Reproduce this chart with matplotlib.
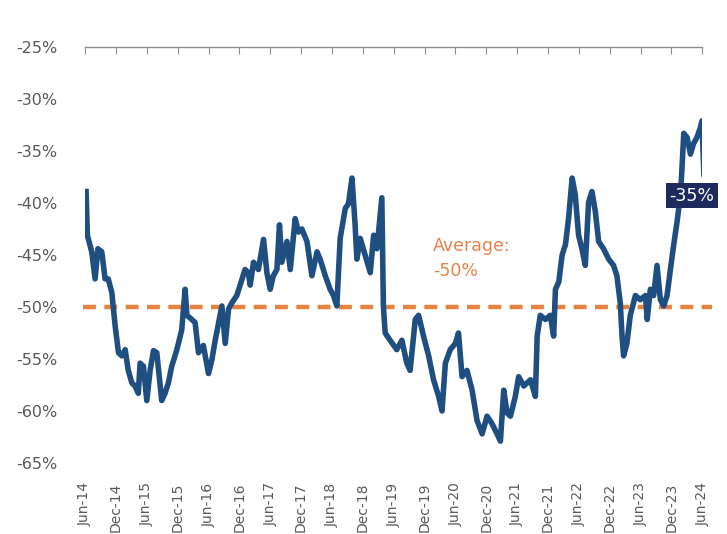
import matplotlib
matplotlib.use("Agg")
import matplotlib.pyplot as plt
import numpy as np

# months since Jun-2014 and the valuation gap (%)
months = [0.2, 0.45, 1.3, 1.95, 2.5, 3.25, 3.9, 4.5, 5.2, 5.85, 6.5, 7.15, 7.8, 8.4,
          9.1, 9.7, 10.35, 10.7, 11.35, 12.0, 12.65, 13.3, 13.95, 14.9, 15.55, 16.2,
          16.85, 17.85, 18.8, 19.45, 19.8, 20.75, 21.4, 22.05, 23.0, 24.0, 24.65,
          25.3, 26.25, 26.6, 27.25, 27.9, 28.55, 29.5, 30.15, 31.1, 31.75,
          32.1, 32.75, 33.7, 34.7, 35.35, 36.0, 36.6, 37.3, 37.8, 38.25, 39.25,
          39.9, 40.85, 41.5, 42.15, 43.15, 44.1, 45.1, 45.7, 46.7, 47.65, 48.3,
          48.95, 49.6, 50.6, 51.2, 51.9, 52.5, 52.85, 53.5, 54.45, 55.45, 56.1,
          56.75, 57.7, 58.0, 58.35, 59.3, 60.6, 61.6, 62.55,
          63.2, 64.2, 64.85, 65.8, 66.8, 67.75, 68.75, 69.4, 70.05, 71.0, 72.0,
          72.6, 73.3, 74.25, 75.25, 76.2, 77.2, 78.15, 79.1, 80.1, 80.75, 81.4,
          82.05, 82.7, 83.65, 84.3, 85.3, 86.6, 87.55, 87.9, 88.5, 89.5, 90.45,
          91.1, 91.45, 92.1, 92.75, 93.4, 94.0, 94.7, 95.3, 95.95, 96.6, 97.25,
          97.9, 98.55, 99.2, 99.85, 100.8, 101.8, 102.75, 103.4, 104.05, 104.4,
          104.7, 105.35, 106.0, 107.0, 107.95, 108.95, 109.3, 109.9, 110.55,
          111.2, 111.85, 112.5, 113.15, 113.8, 114.45, 115.1, 115.75, 116.05,
          116.4, 117.05, 117.7, 118.3, 118.95, 119.6, 119.95, 120.3]
values = [-38.9, -43.1, -44.7, -47.3, -44.4, -44.7, -47.3, -47.3, -48.6, -51.8, -54.4,
          -54.7, -54.1, -56.1, -57.3, -57.6, -58.3, -55.4, -55.7, -59.0, -56.1, -54.2,
          -54.4, -59.0, -58.3, -57.3, -55.7, -54.1, -52.2, -48.3, -50.8, -51.2, -51.5,
          -54.4, -53.7, -56.4, -55.1, -53.2, -50.8, -49.9, -53.5, -50.2, -49.6, -48.9,
          -47.9, -46.4, -46.7,
          -47.9, -45.7, -46.4, -43.5, -46.7, -48.3, -47.0, -46.4, -42.1, -45.7, -43.7,
          -46.4, -41.5, -42.8, -42.5, -43.7, -47.0, -44.7, -45.4, -47.0, -48.3, -48.9,
          -49.9, -43.4, -40.5, -40.1, -37.6, -42.1, -45.4, -43.4, -45.0, -46.7, -43.1,
          -44.4, -39.5, -49.9, -52.5, -53.2, -54.1, -53.2, -55.4,
          -56.1, -51.2, -50.8, -52.8, -54.7, -57.0, -58.6, -60.0, -55.4, -54.1, -53.5,
          -52.5, -56.7, -56.1, -58.0, -60.9, -62.2, -60.5, -61.2, -62.2, -62.9, -58.0,
          -60.2, -60.5, -58.6, -56.7, -57.6, -57.0, -58.6, -52.8, -50.8, -51.2, -50.8,
          -52.8, -48.3, -47.6, -45.0, -44.0, -41.5, -37.6, -39.2, -43.1, -44.4, -46.0,
          -39.9, -38.9, -40.8, -43.7, -44.4, -45.4, -46.0, -47.0, -49.6, -52.8,
          -54.7, -53.5, -50.8, -48.9, -49.3, -48.9, -51.2, -48.3, -48.9,
          -46.0, -49.3, -49.9, -48.9, -46.4, -44.0, -41.8, -39.2, -36.7,
          -33.3, -33.7, -35.3, -34.3, -33.7, -32.8, -32.1, -37.2]

average = -50
latest_label = "-35%"
tick_months = list(range(0, 121, 6))
tick_labels = []
for y in range(14, 25):
    tick_labels.append("Jun-%d" % y)
    if y < 24:
        tick_labels.append("Dec-%d" % y)
y_ticks = list(range(-65, -24, 5))

plt.rcParams['font.family'] = ['DejaVu Sans']

fig = plt.figure(figsize=(7.27, 5.34), dpi=100)
ax = fig.add_axes([0.117, 0.133, 0.849, 0.779])

ax.plot(months, values, color='#1F4E80', lw=4, solid_joinstyle='round', zorder=3)
ax.axhline(average, xmin=-0.004, xmax=1.015, color='#E8833F', lw=3.2,
           dashes=(2.9, 1.9), clip_on=False, zorder=2)

ax.text(67.7, -43.3, "Average:\n-50%", color='#E5824B', fontsize=12.5,
        ha='left', va='top', linespacing=1.45)

ax.text(118.0, -39.3, latest_label, color='white', fontsize=12.5, ha='center',
        va='center', clip_on=False, zorder=5,
        bbox=dict(boxstyle='square,pad=0.2', fc='#1C2A5E', ec='none'))

ax.set_xlim(0, 120)
ax.set_ylim(-65, -25)
ax.set_yticks(y_ticks)
ax.set_yticklabels(["%d%%" % v for v in y_ticks])
ax.set_xticks(tick_months)
ax.set_xticklabels(tick_labels, rotation=90)

for s in ['left', 'right', 'bottom']:
    ax.spines[s].set_visible(False)
ax.spines['top'].set_color('#8C8C8C')
ax.spines['top'].set_linewidth(1.0)

ax.tick_params(axis='y', length=0, pad=20, labelsize=11.5, labelcolor='#595959')
ax.tick_params(axis='x', top=True, bottom=False, labeltop=False, labelbottom=True,
               direction='in', length=5, color='#8C8C8C', pad=14,
               labelsize=10, labelcolor='#595959')

fig.savefig('out.png', dpi=100)
